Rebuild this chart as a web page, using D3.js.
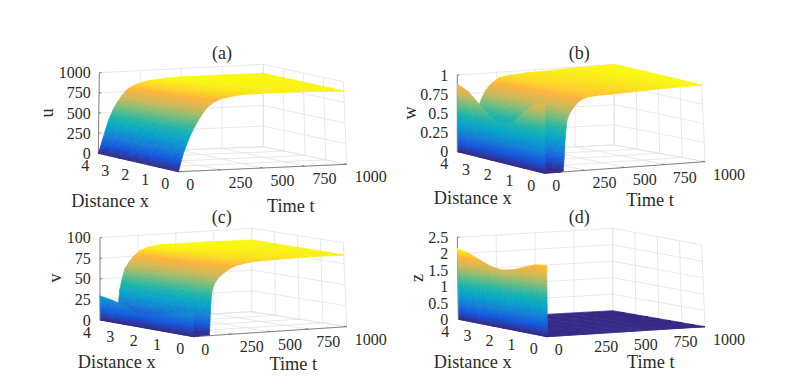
<!DOCTYPE html>
<html>
<head>
<meta charset="utf-8">
<script src="https://cdn.jsdelivr.net/npm/d3@7"></script>
<style>
  html, body { margin: 0; padding: 0; background: #fff; }
  text { font-family: "Liberation Serif", serif; fill: #2b2b2b; }
</style>
</head>
<body>
<svg id="chart" width="805" height="387"></svg>
<script>
// axis ticks
const xTicks = [0, 1, 2, 3, 4]
const tTicks = [0, 250, 500, 750, 1000]
const uTicks = [0, 250, 500, 750, 1000]
const wTicks = [0, 0.25, 0.5, 0.75, 1]
const vTicks = [0, 25, 50, 75, 100]
const zTicks = [0, 0.5, 1, 1.5, 2, 2.5]

// mesh positions along x
const xGrid = [0, 0.5, 1, 1.5, 2, 2.5, 3, 3.5, 4]

// profile at t = 0, read along xGrid
const uStart = [0, 0, 0, 0, 0, 0, 0, 0, 0]
const wStart = [0.83, 0.80, 0.66, 0.52, 0.48, 0.54, 0.675, 0.81, 0.883]
const vStart = [26.8, 25, 21, 17.5, 15.5, 16.5, 22.5, 26.5, 29.3]
const zStart = [1.97, 1.95, 1.84, 1.73, 1.68, 1.74, 1.89, 2.06, 2.16]

// values after t = 0, read along the edges x = 0 (near) and x = 4 (far)
const uTimes = [5, 30, 60, 85, 110, 140, 170, 200, 230, 265, 300, 400, 500, 700, 1000]
const uNear = [30, 200, 350, 450, 535, 625, 700, 750, 785, 810, 825, 855, 865, 880, 888]
const uFar = [30, 203, 408, 525, 620, 705, 775, 810, 835, 855, 870, 890, 898, 895, 890]

const wTimes = [5, 100, 118, 124, 130, 141, 158, 178, 200, 222, 263, 330, 430, 700, 1000]
const wNear = [0, 0, 0.012, 0.18, 0.415, 0.62, 0.70, 0.757, 0.81, 0.848, 0.888, 0.905, 0.918, 0.96, 1]
const wFar = [0, 0, 0.012, 0.18, 0.415, 0.6, 0.69, 0.77, 0.825, 0.865, 0.925, 0.95, 0.965, 0.985, 1]

const vTimes = [5, 105, 112, 120, 130, 145, 163, 190, 217, 261, 320, 391, 700, 1000]
const vNear = [0, 1, 25, 46.7, 54, 59, 63, 67.5, 71, 75.7, 78.5, 80.7, 84, 85.5]
const vFar = [0, 0.5, 5, 15, 35, 48, 60, 68, 74, 81.5, 85, 87, 87, 86]

const zTimes = [5, 1000]
const zNear = [0, 0]
const zFar = [0, 0]

// parula, nudged warmer to match the picture
const parulaStops = ["#352a87", "#1459dd", "#1481d6", "#06a4ca", "#1fb5aa", "#6fbd80", "#c9b95c", "#feb43a", "#f9fb0e"]
const parula = d3.piecewise(d3.interpolateRgb, parulaStops)

// box corners on screen: f = floor, r = roof, first digit x end, second digit t end
const panels = [
  {
    title: "(a)", zName: "u", ticks: uTicks, start: uStart, times: uTimes, near: uNear, far: uFar,
    f00: [178.3, 171.7], f10: [98.3, 153.3], f01: [346.7, 164.3], f11: [263.3, 146.7],
    r00: [178.3, 81.7], r10: [99.3, 72.7], r01: [343.3, 81.7], r11: [263.3, 64.3],
    titlePos: [222, 53], zNamePos: [46.7, 113], xNamePos: [110, 200.7], tNamePos: [290.7, 205.7], zTickX: 90.7
  },
  {
    title: "(b)", zName: "w", ticks: wTicks, start: wStart, times: wTimes, near: wNear, far: wFar,
    f00: [544.3, 173.3], f10: [457.3, 151.7], f01: [705, 161.7], f11: [614.3, 145],
    r00: [545, 89], r10: [457.3, 75], r01: [701.7, 85], r11: [614.3, 64.3],
    titlePos: [579.3, 53], zNamePos: [410, 113], xNamePos: [472.7, 198], tNamePos: [650, 200], zTickX: 448.3
  },
  {
    title: "(c)", zName: "v", ticks: vTicks, start: vStart, times: vTimes, near: vNear, far: vFar,
    f00: [193.3, 336.7], f10: [100, 320], f01: [346.7, 326.7], f11: [251.7, 311.7],
    r00: [193.3, 246], r10: [100, 237.7], r01: [343.3, 242.7], r11: [251.7, 228.3],
    titlePos: [221.7, 217], zNamePos: [55, 278], xNamePos: [116.7, 362], tNamePos: [293.3, 364], zTickX: 90.7
  },
  {
    title: "(d)", zName: "z", ticks: zTicks, start: zStart, times: zTimes, near: zNear, far: zFar,
    f00: [546.7, 336.7], f10: [458.3, 319.3], f01: [705, 326.7], f11: [612.7, 310.7],
    r00: [546.7, 246], r10: [457.3, 237.3], r01: [701.7, 245], r11: [612.7, 228.3],
    titlePos: [579.3, 217], zNamePos: [416.7, 278], xNamePos: [472.7, 362], tNamePos: [650.7, 362], zTickX: 448.3
  }
]

const xScale = d3.scaleLinear().domain([0, 4]).range([0, 1])
const tScale = d3.scaleLinear().domain([0, 1000]).range([0, 1])
const mix = (a, b, k) => [a[0] + (b[0] - a[0]) * k, a[1] + (b[1] - a[1]) * k]

const svg = d3.select("#chart")
const defs = svg.append("defs")
defs.append("filter").attr("id", "soft")
  .append("feGaussianBlur").attr("stdDeviation", 0.45)
defs.append("linearGradient").attr("id", "parula")
  .selectAll("stop").data(parulaStops).join("stop")
  .attr("offset", (d, i) => i / (parulaStops.length - 1))
  .attr("stop-color", d => d)

let gradientCount = 0

// z is linear over a triangle, so one linear gradient shades it exactly.
// returns the paint for the triangle
function trianglePaint(pts, zs, zMax, color) {
  const [p0, p1, p2] = pts
  const ux = p1[0] - p0[0], uy = p1[1] - p0[1], vx = p2[0] - p0[0], vy = p2[1] - p0[1]
  const dz1 = zs[1] - zs[0], dz2 = zs[2] - zs[0]
  const det = ux * vy - vx * uy
  const flat = Math.abs(dz1) + Math.abs(dz2) < zMax * 1e-4
  if (flat || Math.abs(det) < 1e-3) return color(d3.mean(zs))
  const gx = (dz1 * vy - dz2 * uy) / det
  const gy = (dz2 * ux - dz1 * vx) / det
  const len2 = gx * gx + gy * gy
  // screen points where the plane reaches z = 0 and z = zMax
  const at = z => [p0[0] + gx * (z - zs[0]) / len2, p0[1] + gy * (z - zs[0]) / len2]
  const id = "g" + (gradientCount++)
  const a = at(0), b = at(zMax)
  defs.append("linearGradient").attr("id", id)
    .attr("href", "#parula")
    .attr("gradientUnits", "userSpaceOnUse")
    .attr("x1", a[0]).attr("y1", a[1]).attr("x2", b[0]).attr("y2", b[1])
  return `url(#${id})`
}

function drawPanel(p) {
  const g = svg.append("g")
  const zTop = p.ticks[p.ticks.length - 1]
  const zScale = d3.scaleLinear().domain([0, zTop]).range([0, 1])

  // trilinear mapping inside the box corners
  function project(x, t, z) {
    const sx = xScale(x), st = tScale(t), sz = zScale(z)
    const floor = mix(mix(p.f00, p.f10, sx), mix(p.f01, p.f11, sx), st)
    const roof = mix(mix(p.r00, p.r10, sx), mix(p.r01, p.r11, sx), st)
    return mix(floor, roof, sz)
  }

  // grid on floor and the two back walls
  const gridLines = []
  xTicks.forEach(x => {
    gridLines.push([project(x, 0, 0), project(x, 1000, 0)])
    gridLines.push([project(x, 1000, 0), project(x, 1000, zTop)])
  })
  tTicks.forEach(t => {
    gridLines.push([project(0, t, 0), project(4, t, 0)])
    gridLines.push([project(4, t, 0), project(4, t, zTop)])
  })
  p.ticks.forEach(z => {
    gridLines.push([project(4, 0, z), project(4, 1000, z)])
    gridLines.push([project(4, 1000, z), project(0, 1000, z)])
  })
  g.append("g").selectAll("line").data(gridLines).join("line")
    .attr("x1", d => d[0][0]).attr("y1", d => d[0][1])
    .attr("x2", d => d[1][0]).attr("y2", d => d[1][1])
    .attr("stroke", "#e3e3e3").attr("stroke-width", 0.8)

  // axis lines
  const axisLines = [
    [project(0, 0, 0), project(4, 0, 0)],
    [project(0, 0, 0), project(0, 1000, 0)],
    [project(4, 0, 0), project(4, 0, zTop)]
  ]
  xTicks.forEach(x => axisLines.push([project(x, 0, 0), project(x, 22, 0)]))
  tTicks.forEach(t => axisLines.push([project(0, t, 0), project(0.12, t, 0)]))
  p.ticks.forEach(z => axisLines.push([project(4, 0, z), project(4, 14, z)]))
  g.append("g").selectAll("line").data(axisLines).join("line")
    .attr("x1", d => d[0][0]).attr("y1", d => d[0][1])
    .attr("x2", d => d[1][0]).attr("y2", d => d[1][1])
    .attr("stroke", "#6a6a6a").attr("stroke-width", 0.8)

  // surface rows: t = 0 row first, then near/far edges blended across x
  const times = [0].concat(p.times)
  const rows = [p.start].concat(p.times.map((t, i) =>
    xGrid.map(x => d3.interpolateNumber(p.near[i], p.far[i])(xScale(x)))))

  const zMax = d3.max(rows.flat())
  const color = d3.scaleSequential(parula).domain([0, zMax])

  // back to front: far t first, far x first
  const cells = []
  const addTriangle = tri => {
    const pts = tri.map(d => project(d.x, d.t, d.z))
    cells.push({ pts, paint: trianglePaint(pts, tri.map(d => d.z), zMax, color) })
  }
  for (let i = times.length - 2; i >= 0; i--) {
    for (let j = xGrid.length - 2; j >= 0; j--) {
      const a0 = { x: xGrid[j], t: times[i], z: rows[i][j] }
      const a1 = { x: xGrid[j + 1], t: times[i], z: rows[i][j + 1] }
      const b0 = { x: xGrid[j], t: times[i + 1], z: rows[i + 1][j] }
      const b1 = { x: xGrid[j + 1], t: times[i + 1], z: rows[i + 1][j + 1] }
      addTriangle([a1, b1, b0])
      addTriangle([a1, b0, a0])
    }
  }
  g.append("g").attr("filter", "url(#soft)")
    .selectAll("polygon").data(cells).join("polygon")
    .attr("points", d => d.pts.map(q => q.join(",")).join(" "))
    .attr("fill", d => d.paint)
    .attr("stroke", d => d.paint)
    .attr("stroke-width", 0.7)

  // tick labels
  g.append("g").selectAll("text").data(xTicks).join("text")
    .attr("x", d => project(d, 0, 0)[0] - 13)
    .attr("y", d => project(d, 0, 0)[1] + 12)
    .attr("dy", "0.35em").attr("text-anchor", "middle").attr("font-size", 16)
    .text(d => d)
  g.append("g").selectAll("text").data(tTicks).join("text")
    .attr("x", d => project(0, d, 0)[0] + 8)
    .attr("y", d => project(0, d, 0)[1] + 12.3)
    .attr("dy", "0.35em").attr("text-anchor", "start").attr("font-size", 16)
    .text(d => d)
  g.append("g").selectAll("text").data(p.ticks).join("text")
    .attr("x", p.zTickX)
    .attr("y", d => project(4, 0, d)[1])
    .attr("dy", "0.35em").attr("text-anchor", "end").attr("font-size", 16)
    .text(d => d)

  // titles
  const label = (pos, s, size) => g.append("text")
    .attr("x", pos[0]).attr("y", pos[1]).attr("dy", "0.35em")
    .attr("text-anchor", "middle").attr("font-size", size).text(s)
  label(p.titlePos, p.title, 18)
  label(p.xNamePos, "Distance x", 18.3)
  label(p.tNamePos, "Time t", 18.3)
  label(p.zNamePos, p.zName, 18.3)
    .attr("transform", `rotate(-90 ${p.zNamePos[0]} ${p.zNamePos[1]})`)
}

panels.forEach(drawPanel)
</script>
</body>
</html>
